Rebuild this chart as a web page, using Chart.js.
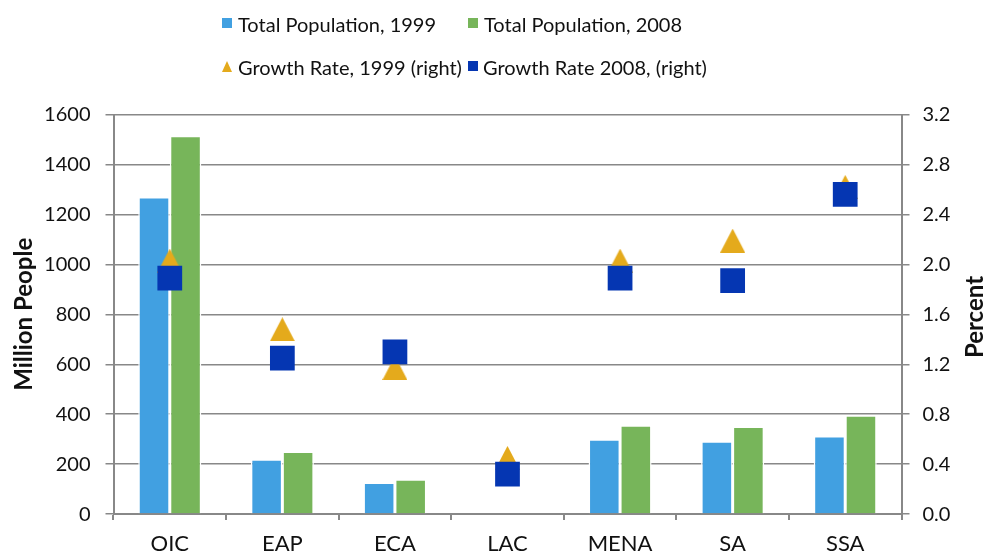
<!DOCTYPE html>
<html>
<head>
<meta charset="utf-8">
<script src="https://cdn.jsdelivr.net/npm/chart.js@4.4.1/dist/chart.umd.min.js"></script>
<style>
  body { margin: 0; overflow: hidden; background: #fff; }
  #wrap { position: relative; width: 994px; height: 584px; }
  #legend { position: absolute; left: 0; top: 0; width: 994px; height: 100px; font-family: Lato, sans-serif; font-size: 20px; color: #111; }
  .item { position: absolute; white-space: nowrap; line-height: 24px; }
  .mk { position: absolute; }
</style>
</head>
<body>
<div id="wrap">
  <canvas id="myChart" width="994" height="584"></canvas>
  <div id="legend"></div>
</div>
<script>
const categories = ['OIC', 'EAP', 'ECA', 'LAC', 'MENA', 'SA', 'SSA'];
const pop1999 = [1270, 220, 127, null, 300, 292, 313];
const pop2008 = [1515, 251, 140, null, 356, 351, 396];
const growth1999 = [2.03, 1.48, 1.17, 0.45, 2.03, 2.19, 2.62];
const growth2008 = [1.89, 1.25, 1.30, 0.32, 1.89, 1.87, 2.56];
const leftTicks = [0, 200, 400, 600, 800, 1000, 1200, 1400, 1600];
const rightTicks = [0, 0.4, 0.8, 1.2, 1.6, 2.0, 2.4, 2.8, 3.2];

const BLUE = '#41A0E1', GREEN = '#77B55A', GOLD = '#E4AA1C', NAVY = '#0536B2';
const GRID = '#888888';

// triangle marker, centred on its box like the original
const tri = document.createElement('canvas');
tri.width = 25; tri.height = 24;
const tctx = tri.getContext('2d');
tctx.fillStyle = GOLD;
tctx.beginPath();
tctx.moveTo(12.5, 0); tctx.lineTo(25, 24); tctx.lineTo(0, 24);
tctx.closePath(); tctx.fill();

// right axis title reads bottom-to-top in the original
const rightTitle = {
    id: 'rightTitle',
    afterDraw(chart) {
        const ctx = chart.ctx;
        ctx.save();
        ctx.translate(975, 317);
        ctx.rotate(-Math.PI / 2);
        ctx.font = 'bold 24px Lato';
        ctx.textAlign = 'center';
        ctx.textBaseline = 'middle';
        ctx.fillStyle = '#111';
        ctx.fillText('Percent', 0, 0);
        ctx.restore();
    }
};

function start() {
    Chart.defaults.font.family = 'Lato';
    Chart.defaults.font.size = 20;
    Chart.defaults.color = '#111';

    const chart = new Chart(document.getElementById('myChart').getContext('2d'), {
        data: {
            labels: categories,
            datasets: [
                { type: 'bar', label: 'Total Population, 1999', data: pop1999, backgroundColor: BLUE,
                  borderColor: '#fff', borderWidth: 1.5, yAxisID: 'y', order: 3, mk: 'rect' },
                { type: 'bar', label: 'Total Population, 2008', data: pop2008, backgroundColor: GREEN,
                  borderColor: '#fff', borderWidth: 1.5, yAxisID: 'y', order: 3, mk: 'rect' },
                { type: 'line', label: 'Growth Rate, 1999 (right)', data: growth1999, showLine: false,
                  pointStyle: tri, pointRadius: 12, backgroundColor: GOLD, borderColor: GOLD,
                  yAxisID: 'y1', order: 2, mk: 'tri' },
                { type: 'line', label: 'Growth Rate 2008, (right)', data: growth2008, showLine: false,
                  pointStyle: 'rect', pointRadius: 17.5, pointBorderWidth: 0, backgroundColor: NAVY,
                  borderColor: NAVY, yAxisID: 'y1', order: 1, mk: 'rect' }
            ]
        },
        options: {
            responsive: false,
            animation: false,
            layout: { padding: { top: 114.5, left: 0, right: 0, bottom: 15.5 } },
            datasets: { bar: { categoryPercentage: 0.56, barPercentage: 1 } },
            plugins: { legend: { display: false }, tooltip: { enabled: false } },
            scales: {
                x: {
                    grid: { offset: true, drawOnChartArea: false, drawTicks: true, tickLength: 6, color: GRID, lineWidth: 2 },
                    border: { color: GRID, width: 2 },
                    ticks: { padding: 11, font: { size: 22 } }
                },
                y: {
                    position: 'left', min: 0, max: 1600,
                    afterBuildTicks: s => { s.ticks = leftTicks.map(v => ({ value: v })); },
                    afterFit: s => { s.width = 113.5; },
                    grid: { color: GRID, lineWidth: 1.5, tickLength: 8 },
                    border: { color: GRID, width: 2 },
                    ticks: { padding: 15, font: { size: 20 }, callback: v => String(v) },
                    title: { display: true, text: 'Million People', font: { size: 24, weight: 'bold' }, padding: { top: 10 } }
                },
                y1: {
                    position: 'right', min: 0, max: 3.2,
                    afterBuildTicks: s => { s.ticks = rightTicks.map(v => ({ value: v })); },
                    afterFit: s => { s.width = 92.5; },
                    grid: { drawOnChartArea: false, color: GRID, lineWidth: 1.5, tickLength: 8 },
                    border: { color: GRID, width: 2 },
                    ticks: { padding: 13, font: { size: 20 }, callback: v => v.toFixed(1) }
                }
            }
        },
        plugins: [rightTitle]
    });

    // legend in two columns, like the original
    const cols = [222, 468];
    const rows = [24, 67];
    const legend = document.getElementById('legend');
    chart.data.datasets.forEach((ds, i) => {
        const item = document.createElement('div');
        item.className = 'item';
        const cx = cols[i % 2], cy = rows[Math.floor(i / 2)];
        item.style.left = cx + 'px';
        item.style.top = (cy - 12) + 'px';
        const mk = document.createElement('span');
        mk.className = 'mk';
        if (ds.mk === 'tri') {
            mk.style.cssText = 'left:0;top:6px;width:0;height:0;border-left:5.5px solid transparent;border-right:5.5px solid transparent;border-bottom:11px solid ' + GOLD;
        } else {
            mk.style.cssText = 'left:0;top:6px;width:10px;height:10px;background:' + ds.backgroundColor;
        }
        item.appendChild(mk);
        const txt = document.createElement('span');
        txt.textContent = ds.label;
        txt.style.marginLeft = (i === 3 ? 15 : 16) + 'px';
        item.appendChild(txt);
        legend.appendChild(item);
    });
}

document.fonts.load('20px Lato').then(start, start);
</script>
</body>
</html>
